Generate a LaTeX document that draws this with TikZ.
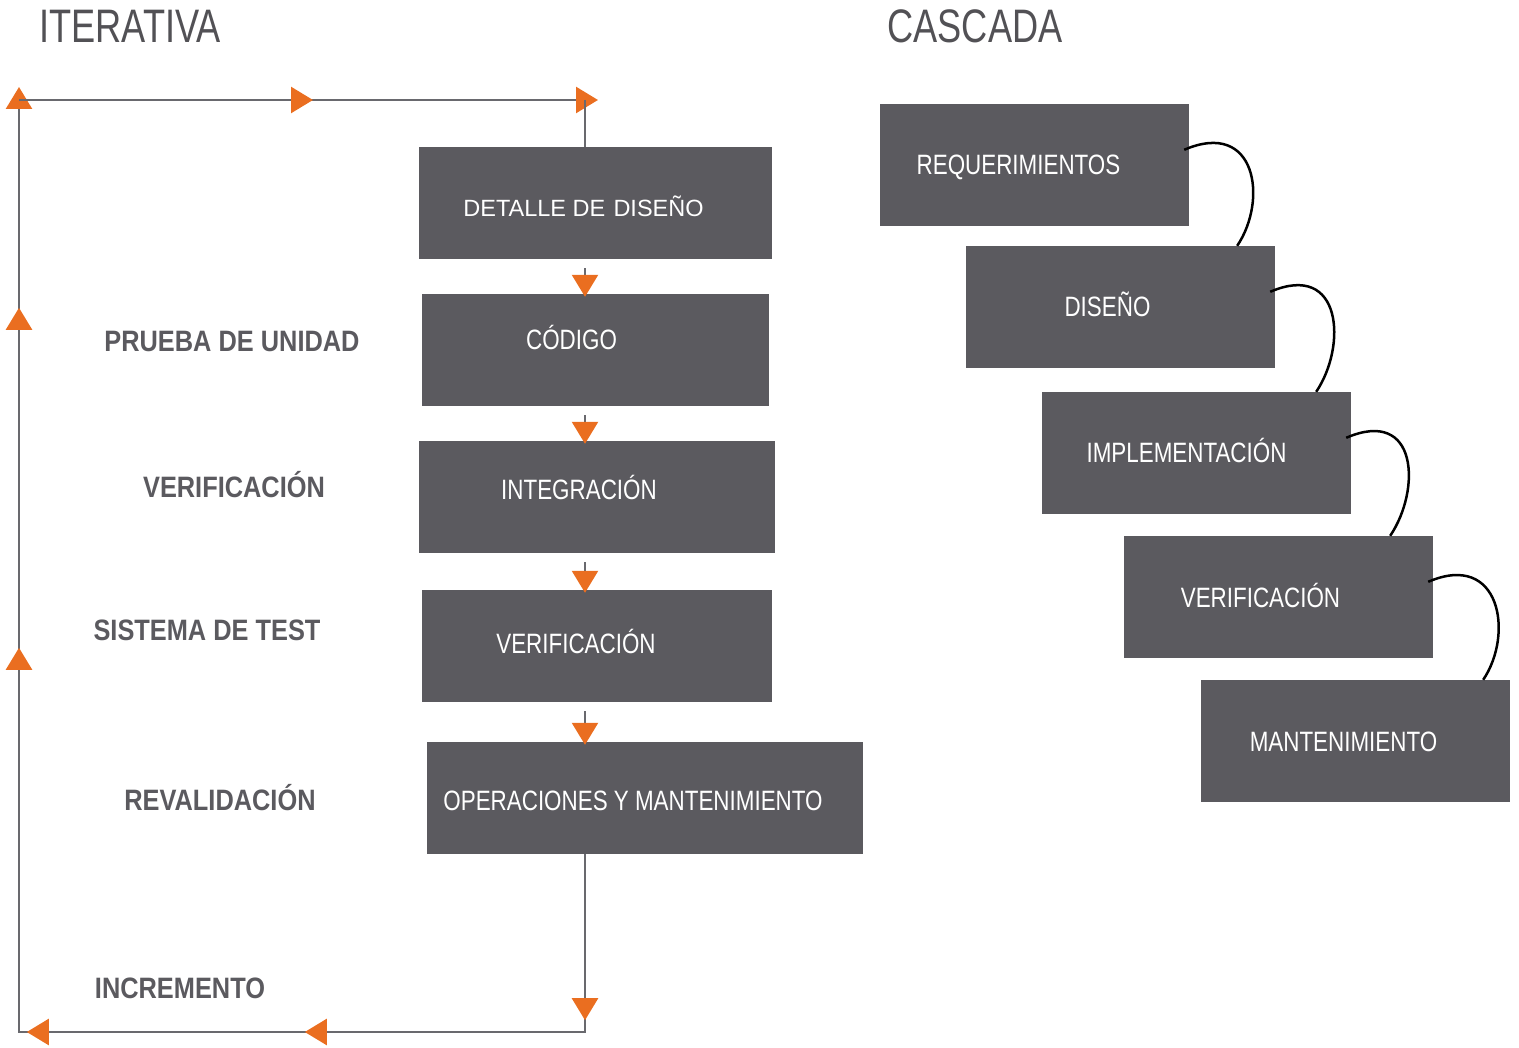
\documentclass[tikz,border=0pt]{standalone}
\usepackage{fontspec}
\setmainfont{Liberation Sans}
\newfontfamily\narrowfont[FakeStretch=0.8]{Liberation Sans}
\newfontfamily\titlefont[FakeStretch=0.77]{Liberation Sans}
\newfontfamily\sidefont[FakeStretch=0.86]{Liberation Sans}
\usetikzlibrary{arrows.meta,decorations.markings,calc}

\definecolor{boxgray}{RGB}{91,90,95}
\definecolor{linegray}{RGB}{105,105,110}
\definecolor{tiporange}{RGB}{234,110,32}

\tikzset{
  box/.style={fill=boxgray, minimum height=112pt, inner sep=0pt},
  cbox/.style={fill=boxgray, minimum width=309pt, minimum height=122pt, inner sep=0pt},
  boxtext/.style={text=white, font=\narrowfont\fontsize{28}{30}\selectfont, text height=20pt, text depth=0pt, inner sep=0pt},
  sidelabel/.style={text=boxgray, font=\sidefont\bfseries\fontsize{29.5}{31}\selectfont, text height=21pt, text depth=0pt, inner sep=0pt},
  title/.style={text=boxgray!90!black, font=\titlefont\fontsize{47}{50}\selectfont, text height=34pt, text depth=0pt, inner sep=0pt},
  flowline/.style={draw=linegray, line width=2.5pt},
  wave/.style={draw=black, line width=2.5pt},
}

\begin{document}
\begin{tikzpicture}[x=1pt, y=-1pt, >={Triangle[length=22pt,width=26pt,color=tiporange]}]
\useasboundingbox (0,0) rectangle (1519,1048);

% Titles
\node[title, anchor=west] (iterativa) at (39,26) {ITERATIVA};
\node[title] (cascada) at (975,26) {CASCADA};

% Iterative model
\node[box, minimum width=353pt, label={[text=white, font=\fontsize{23.5}{25}\selectfont, text height=17pt, text depth=0pt, inner sep=0pt, xshift=-12pt, yshift=-5pt]center:DETALLE DE\hspace{0.35em}DISEÑO}] (detalle) at (595.5,203) {};
\node[box, minimum width=347pt, label={[boxtext, xshift=-24pt, yshift=10pt]center:CÓDIGO}] (codigo) at (595.5,350) {};
\node[box, minimum width=356pt, label={[boxtext, xshift=-18pt, yshift=7pt]center:INTEGRACIÓN}] (integracion) at (597,497) {};
\node[box, minimum width=350pt, label={[boxtext, xshift=-21pt, yshift=3pt]center:VERIFICACIÓN}] (verificacion) at (597,646) {};
\node[box, minimum width=436pt, label={[boxtext, xshift=-12pt, yshift=-2pt]center:OPERACIONES Y MANTENIMIENTO}] (operaciones) at (645,798) {};

\node[sidelabel] (prueba) at (232,341) {PRUEBA DE UNIDAD};
\node[sidelabel] (verif-lbl) at (234,487) {VERIFICACIÓN};
\node[sidelabel] (sistema) at (207,630) {SISTEMA DE TEST};
\node[sidelabel] (revalidacion) at (220,800) {REVALIDACIÓN};
\node[sidelabel] (incremento) at (180,988) {INCREMENTO};

% Loop corners
\coordinate (tl) at (19,100);
\coordinate (tr) at (585,100);
\coordinate (bl) at (19,1032);
\coordinate (br) at (585,1032);

\draw[flowline, ->, postaction={decorate}, decoration={markings,
    mark=at position 166pt with {\arrow{>}},
    mark=at position 458pt with {\arrow{>}},
    mark=at position 736pt with {\arrow{>}},
    mark=at position 1128pt with {\arrow{>}},
    mark=at position 1468pt with {\arrow{>}}}]
  (operaciones.south -| tr) -- (br) -- (bl) -- ([yshift=13pt]tl);
\draw[flowline, ->, postaction={decorate}, decoration={markings,
    mark=at position 294pt with {\arrow{>}}}]
  (tl) -- ([xshift=13pt]tr);
\draw[flowline] (tr) -- (detalle.north -| tr);

\foreach \a/\b in {detalle/codigo, codigo/integracion, integracion/verificacion, verificacion/operaciones}
  \draw[flowline, ->] ($(\a.south -| tr)+(0,9)$) -- ($(\b.north -| tr)+(0,3)$);

% Waterfall model
\foreach \n/\x/\y/\t/\s in {req/1034.5/165/REQUERIMIENTOS/-16, dis/1120.5/307/DISEÑO/-13, impl/1196.5/453/IMPLEMENTACIÓN/-10, ver/1278.5/597/VERIFICACIÓN/-18, mant/1355.5/741/MANTENIMIENTO/-12}
  \node[cbox, label={[boxtext, xshift=\s pt]center:\t}] (\n) at (\x,\y) {};

\foreach \a/\b/\d in {req/dis/-38, dis/impl/-35, impl/ver/-43, ver/mant/-27}
  \draw[wave] ([xshift=-5pt,yshift=-46pt]\a.north east) .. controls +(72,-31) and +(31,-46) .. ([xshift=\d pt]\b.north east);

\end{tikzpicture}
\end{document}
